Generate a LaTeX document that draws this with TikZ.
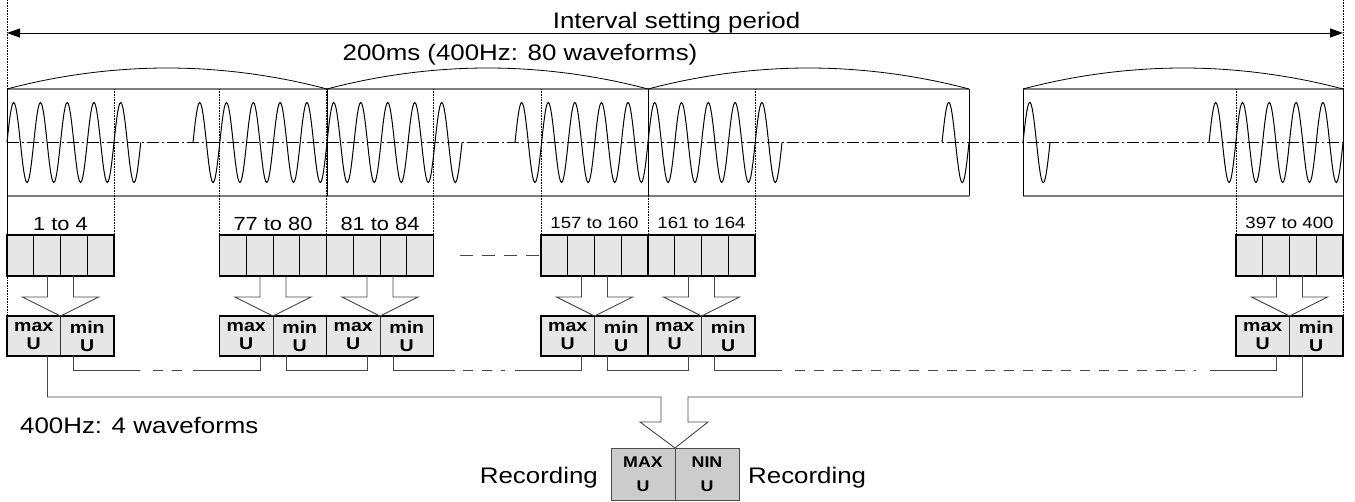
\documentclass[tikz,border=0pt]{standalone}
\usepackage{fontspec}
\setmainfont{Liberation Sans}[FakeStretch=1.15]
\usetikzlibrary{calc,arrows.meta,positioning}
\definecolor{cellg}{RGB}{230,230,230}
\definecolor{recg}{RGB}{204,204,204}
\definecolor{edgeg}{RGB}{125,125,125}
\definecolor{linkg}{RGB}{70,70,70}

\newcommand{\wavepart}[3]{% from x, to x, cycles
  \draw[wave] plot[domain=0:#3*360, samples=121]
    ({#1+(#2-#1)*(\x/(#3*360))}, {142.5-40*sin(\x)});}
\newcommand{\blockarr}[2]{% cell group, tip
  \draw[link] ($(#1.south)+(-13,0)$) -- ($(#2)+(-13,-19)$) -- ($(#2)+(-38,-19)$)
    -- (#2) -- ($(#2)+(38,-19)$) -- ($(#2)+(13,-19)$) -- ($(#1.south)+(13,0)$);}

\begin{document}
\begin{tikzpicture}[x=1pt, y=-1pt,
  >={Triangle[length=13pt, width=9pt]},
  bigtxt/.style={font=\fontsize{22.5}{26}\selectfont, inner sep=0pt},
  numtxt/.style={font=\fontsize{19}{22}\selectfont, inner sep=0pt},
  numsmall/.style={font=\fontsize{16.2}{19}\selectfont, inner sep=0pt},
  wframe/.style={minimum width=#1, minimum height=107pt, inner sep=0pt, outer sep=0pt},
  cellgrp/.style={draw, line width=1.8pt, fill=cellg, minimum width=107pt,
                  minimum height=41pt, inner sep=0pt, outer sep=0pt},
  mmcell/.style={draw=black!80, line width=0.8pt, fill=cellg, minimum width=53.5pt,
                 minimum height=40pt, inner sep=0pt, outer sep=0pt, align=center,
                 font=\bfseries\fontsize{17}{18}\selectfont},
  reccell/.style={draw=black!70, line width=0.8pt, fill=recg, minimum width=64pt,
                  minimum height=52pt, inner sep=0pt, outer sep=0pt, align=center,
                  font=\bfseries\fontsize{15.5}{24}\selectfont},
  guide/.style={densely dotted, line width=0.6pt},
  axisln/.style={line width=0.6pt, dash pattern=on 12pt off 3pt on 2pt off 3pt},
  wave/.style={line width=1pt},
  link/.style={linkg, line width=0.9pt},
  gapln/.style={link, dash pattern=on 10pt off 9pt},
]
\useasboundingbox (0,0) rectangle (1355,501);
\coordinate (top) at (0,0);
\coordinate (arrowy) at (0,33);

% waveform frames
\node[wframe=320pt] (wb1) at (167,142.5) {};
\node[wframe=321pt] (wb2) at (487.5,142.5) {};
\node[wframe=321pt] (wb3) at (808.5,142.5) {};
\node[wframe=320pt] (wb4) at (1183,142.5) {};

\draw[axisln] (wb1.west) -- (wb4.east);
\wavepart{7}{140.75}{5}
\wavepart{193}{327}{5}
\wavepart{327}{462}{5}
\wavepart{515}{648}{5}
\wavepart{648}{782}{5}
\wavepart{942}{969}{1}
\wavepart{1023}{1050}{1}
\wavepart{1209}{1343}{5}

\foreach \wb in {wb1,wb2,wb3,wb4} {
  \draw[edgeg, line width=2pt] (\wb.north west) -- (\wb.north east)
                               (\wb.south west) -- (\wb.south east);
  \draw[line width=0.9pt] (\wb.north west) -- (\wb.south west)
                          (\wb.north east) -- (\wb.south east);
  \draw[line width=0.8pt] (\wb.north west) parabola bend ($(\wb.north)+(0,-21)$) (\wb.north east);
}

% cell groups
\node[cellgrp] (g1) at (60.5,255.5) {};
\node[cellgrp] (g2) at (273,255.5) {};
\node[cellgrp, right=0pt of g2] (g3) {};
\node[cellgrp] (g4) at (594.5,255.5) {};
\node[cellgrp, right=0pt of g4] (g5) {};
\node[cellgrp] (g6) at (1289.5,255.5) {};
\foreach \grp in {g1,g2,g3,g4,g5,g6} {
  \foreach \k in {1,2,3}
    \draw[line width=0.8pt] ($(\grp.north west)!\k/4!(\grp.north east)$) --
                            ($(\grp.south west)!\k/4!(\grp.south east)$);
  \draw[guide] (\grp.north west |- wb1.north) -- (\grp.north west)
               (\grp.north east |- wb1.north) -- (\grp.north east);
}

\node[numtxt, above=4pt of g1] (l1) {1 to 4};
\node[numtxt, above=4pt of g2] (l2) {77 to 80};
\node[numtxt, above=4pt of g3] (l3) {81 to 84};
\node[numsmall, above=6pt of g4] (l4) {157 to 160};
\node[numsmall, above=6pt of g5] (l5) {161 to 164};
\node[numsmall, above=6pt of g6] (l6) {397 to 400};

% max / min pairs
\node[mmcell] (mx1) at (33.75,336) {max\\U};
\node[mmcell, right=0pt of mx1] (mn1) {min\\U};
\node[mmcell] (mx2) at (246.25,336) {max\\U};
\node[mmcell, right=0pt of mx2] (mn2) {min\\U};
\node[mmcell, right=0pt of mn2] (mx3) {max\\U};
\node[mmcell, right=0pt of mx3] (mn3) {min\\U};
\node[mmcell] (mx4) at (567.75,336) {max\\U};
\node[mmcell, right=0pt of mx4] (mn4) {min\\U};
\node[mmcell, right=0pt of mn4] (mx5) {max\\U};
\node[mmcell, right=0pt of mx5] (mn5) {min\\U};
\node[mmcell] (mx6) at (1262.75,336) {max\\U};
\node[mmcell, right=0pt of mx6] (mn6) {min\\U};
\foreach \i in {1,...,6}
  \draw[line width=1.8pt] (mx\i.north west) rectangle (mn\i.south east);

\draw[guide] (mx1.north west |- top) -- (mx1.north west);
\draw[guide] (mn6.north east |- top) -- (mn6.north east);

\foreach \i in {1,...,6} {\blockarr{g\i}{mx\i.north east}}

% period arrow and titles
\draw[<->, line width=0.9pt] (mx1.north west |- arrowy) -- (mn6.north east |- arrowy);
\node[bigtxt, anchor=base] (ttl) at (676.5,28) {Interval setting period};
\node[bigtxt, anchor=base] (per) at (520,60) {200ms (400Hz: 80 waveforms)};

\coordinate (gL) at (460,255.5);
\draw[link, dash pattern=on 13pt off 9pt] (gL) -- (g4.west);

% lower chain
\coordinate (gA) at (140,370);
\coordinate (gB) at (193,370);
\coordinate (gC) at (455,370);
\coordinate (gD) at (515,370);
\coordinate (gE) at (782,370);
\coordinate (gF) at (1210,370);
\draw[link] ($(mn1.south west)+(13,0)$) |- (gA);
\draw[gapln] ($(gA)+(13,0)$) -- ($(gB)+(-10,0)$);
\draw[link] (gB) -| ($(mx2.south east)+(-13,0)$);
\draw[link] ($(mn2.south west)+(13,0)$) -- ++(0,14) -| ($(mx3.south east)+(-13,0)$);
\draw[link] ($(mn3.south west)+(13,0)$) |- (gC);
\draw[gapln] ($(gC)+(8,0)$) -- ($(gD)+(-10,0)$);
\draw[link] (gD) -| ($(mx4.south east)+(-13,0)$);
\draw[link] ($(mn4.south west)+(13,0)$) -- ++(0,14) -| ($(mx5.south east)+(-13,0)$);
\draw[link] ($(mn5.south west)+(13,0)$) |- (gE);
\draw[gapln] ($(gE)+(13,0)$) -- ($(gF)+(-14,0)$);
\draw[link] (gF) -| ($(mx6.south east)+(-13,0)$);

% recording
\node[reccell] (MX) at (643,474) {MAX\\U};
\node[reccell, right=0pt of MX] (NN) {NIN\\U};
\draw[link] ($(mx1.south east)+(-13,0)$) |- ($(MX.north east)+(-14,-51)$)
  -- ($(MX.north east)+(-14,-26)$) -- ($(MX.north east)+(-35,-26)$) -- (MX.north east)
  -- ($(MX.north east)+(33,-26)$) -- ($(MX.north east)+(13,-26)$)
  -- ($(MX.north east)+(13,-51)$) -| ($(mn6.south west)+(13,0)$);

\node[bigtxt, anchor=base west] (hz) at (20,433) {400Hz: 4 waveforms};
\node[bigtxt, anchor=base east] (recl) at (598,483) {Recording};
\node[bigtxt, anchor=base west] (recr) at (748,483) {Recording};
\end{tikzpicture}
\end{document}
